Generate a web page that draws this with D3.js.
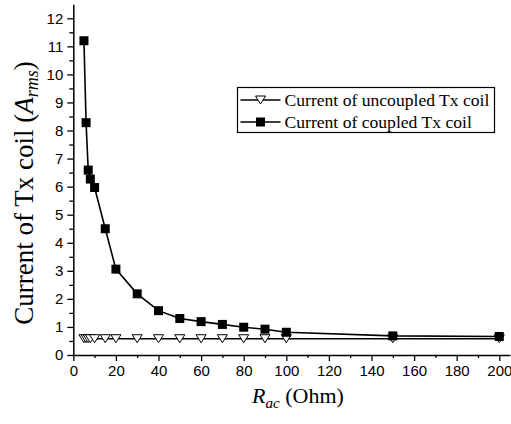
<!DOCTYPE html>
<html>
<head>
<meta charset="utf-8">
<script src="https://cdn.jsdelivr.net/npm/d3@7"></script>
<style>
  body { margin: 0; background: #fff; }
  .tick text { font-family: "Liberation Sans", Arial, sans-serif; font-size: 15px; fill: #000; }
  .serif { font-family: "Liberation Serif", "Times New Roman", serif; fill: #000; }
</style>
</head>
<body>
<svg id="chart" width="511" height="424"></svg>
<script>
// resistance values (Ohm)
const rac = [5, 6, 7, 8, 10, 15, 20, 30, 40, 50, 60, 70, 80, 90, 100, 150, 200];
// currents (A rms)
const uncoupled = [0.58, 0.58, 0.58, 0.58, 0.58, 0.58, 0.58, 0.58, 0.58, 0.58, 0.58, 0.58, 0.58, 0.58, 0.58, 0.58, 0.58];
const coupled   = [11.2, 8.28, 6.59, 6.27, 5.97, 4.5, 3.06, 2.18, 1.58, 1.3, 1.19, 1.09, 0.99, 0.92, 0.81, 0.68, 0.66];
const xTicks = [0, 20, 40, 60, 80, 100, 120, 140, 160, 180, 200];
const yTicks = [0, 1, 2, 3, 4, 5, 6, 7, 8, 9, 10, 11, 12];
const legendLabels = ["Current of uncoupled Tx coil", "Current of coupled Tx coil"];

const svg = d3.select("#chart");

const x = d3.scaleLinear().domain([0, 205]).range([73.3, 73.3 + 205 * 2.13]);
const y = d3.scaleLinear().domain([0, 12.5]).range([355, 4.25]);

// minor ticks first, then the major axis on top
svg.append("g")
  .attr("transform", "translate(0,355)")
  .call(d3.axisBottom(x).tickValues(d3.range(10, 200, 20)).tickSize(3).tickFormat(""))
  .call(g => g.select(".domain").remove())
  .selectAll("line").attr("stroke-width", 1.3);

svg.append("g")
  .attr("transform", "translate(73.3,0)")
  .call(d3.axisLeft(y).tickValues(d3.range(0.5, 12.5, 1)).tickSize(4).tickFormat(""))
  .call(g => g.select(".domain").remove())
  .selectAll("line").attr("stroke-width", 1.3);

const xAxis = svg.append("g")
  .attr("transform", "translate(0,355)")
  .call(d3.axisBottom(x).tickValues(xTicks).tickSize(6).tickSizeOuter(0).tickPadding(4));
xAxis.select(".domain").attr("stroke-width", 1.5);
xAxis.selectAll("line").attr("stroke-width", 1.3);

const yAxis = svg.append("g")
  .attr("transform", "translate(73.3,0)")
  .call(d3.axisLeft(y).tickValues(yTicks).tickSize(6).tickSizeOuter(0).tickPadding(4));
yAxis.select(".domain").attr("stroke-width", 1.5);
yAxis.selectAll("line").attr("stroke-width", 1.3);

// series
const line = d3.line().x(d => x(d[0])).y(d => y(d[1]));
const upts = rac.map((r, i) => [r, uncoupled[i]]);
const cpts = rac.map((r, i) => [r, coupled[i]]);

svg.append("path").datum(upts).attr("d", line)
  .attr("fill", "none").attr("stroke", "#000").attr("stroke-width", 1.6);
svg.append("path").datum(cpts).attr("d", line)
  .attr("fill", "none").attr("stroke", "#000").attr("stroke-width", 1.6);

const tri = "M-5,-4L5,-4L0,4Z";
function drawTri(sel) {
  sel.attr("d", tri).attr("fill", "#fff").attr("stroke", "#000").attr("stroke-width", 1);
}
function drawSq(sel) {
  sel.attr("x", -4.5).attr("y", -4.5).attr("width", 9).attr("height", 9).attr("fill", "#000");
}

svg.append("g").selectAll("path").data(upts).join("path")
  .attr("transform", d => `translate(${x(d[0])},${y(d[1])})`)
  .call(drawTri);
svg.append("g").selectAll("rect").data(cpts).join("rect")
  .attr("transform", d => `translate(${x(d[0])},${y(d[1])})`)
  .call(drawSq);

// legend
const lg = svg.append("g").attr("transform", "translate(237.5,87.5)");
lg.append("rect").attr("width", 257).attr("height", 45)
  .attr("fill", "#fff").attr("stroke", "#000").attr("stroke-width", 1.2);
legendLabels.forEach((lab, i) => {
  const yy = 12.5 + i * 22;
  lg.append("line").attr("x1", 3).attr("x2", 43).attr("y1", yy).attr("y2", yy)
    .attr("stroke", "#000").attr("stroke-width", 1.6);
  const m = lg.append(i === 0 ? "path" : "rect").attr("transform", `translate(23,${yy})`);
  if (i === 0) drawTri(m); else drawSq(m);
  lg.append("text").attr("class", "serif").attr("x", 47).attr("y", yy + 6)
    .style("font-size", "17.6px").text(lab);
});

// axis titles
const yt = svg.append("text").attr("class", "serif")
  .attr("transform", "translate(33,193) rotate(-90)")
  .attr("text-anchor", "middle").style("font-size", "27px");
yt.append("tspan").text("Current of Tx coil (");
yt.append("tspan").style("font-style", "italic").text("A");
yt.append("tspan").style("font-style", "italic").style("font-size", "18px").attr("dy", 5).text("rms");
yt.append("tspan").attr("dy", -5).text(")");

const xt = svg.append("text").attr("class", "serif")
  .attr("x", 298).attr("y", 403)
  .attr("text-anchor", "middle").style("font-size", "22px");
xt.append("tspan").style("font-style", "italic").text("R");
xt.append("tspan").style("font-style", "italic").style("font-size", "15px").attr("dy", 5).text("ac");
xt.append("tspan").attr("dy", -5).text(" (Ohm)");
</script>
</body>
</html>
